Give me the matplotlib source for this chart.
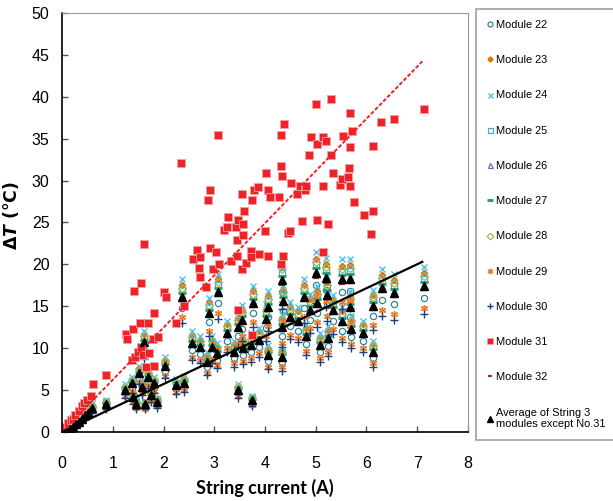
import matplotlib
matplotlib.use("Agg")
from matplotlib import pyplot as plt
import numpy as np

# string current (A) for the measurement groups of modules 22-30, 32
current = [0.15, 0.22, 0.28, 0.34, 0.40, 0.46, 0.52, 0.60, 0.87, 1.24,
           1.38, 1.40, 1.46, 1.52, 1.58, 1.62, 1.64, 1.70, 1.75, 1.82,
           1.88, 2.02, 2.24, 2.36, 2.40, 2.57, 2.72, 2.86, 2.90, 2.95,
           3.05, 3.07, 3.25, 3.38, 3.47, 3.47, 3.55, 3.56, 3.72, 3.74,
           3.76, 3.88, 4.02, 4.05, 4.06, 4.33, 4.35, 4.33, 4.34, 4.50,
           4.65, 4.77, 4.80, 4.88, 5.00, 5.02, 5.08, 5.20, 5.22, 5.24,
           5.34, 5.52, 5.52, 5.68, 5.68, 5.70, 5.94, 6.12, 6.12, 6.30,
           6.54, 7.13]

average = [0.4, 0.6, 0.9, 1.2, 1.6, 2.0, 2.3, 2.9, 3.4, 5.0,
           5.8, 4.2, 3.4, 7.0, 5.4, 10.7, 3.3, 6.6, 4.4, 5.8,
           3.6, 7.9, 5.6, 16.1, 5.9, 10.6, 10.1, 8.4, 14.2, 10.1,
           9.4, 16.7, 11.8, 9.6, 12.5, 5.0, 13.4, 10.0, 10.4, 3.8,
           15.4, 11.0, 13.5, 9.2, 14.9, 18.1, 15.6, 12.5, 9.0, 13.7,
           13.2, 16.1, 11.4, 14.6, 19.0, 15.4, 10.4, 18.4, 16.4, 11.2,
           14.5, 18.2, 13.2, 18.3, 14.9, 12.3, 11.8, 15.0, 9.6, 17.2,
           16.6, 17.4]

m22 = [0.4, 0.6, 0.8, 1.1, 1.5, 1.8, 2.1, 2.7, 3.1, 4.6, 5.3, 3.9, 3.1, 6.4, 5.0, 9.8, 3.0, 6.1, 4.0, 5.3,
       3.3, 7.3, 5.2, 14.8, 5.4, 9.8, 9.3, 7.7, 13.1, 9.3, 8.6, 15.4, 10.9, 8.8, 11.5, 4.6, 12.3, 9.2, 9.6, 3.5,
       14.2, 10.1, 12.4, 8.5, 13.7, 16.7, 14.4, 11.5, 8.3, 12.6, 12.1, 14.8, 10.5, 13.4, 17.5, 14.2, 9.6, 16.9, 15.1, 10.3,
       13.3, 16.7, 12.1, 16.8, 13.7, 11.3, 10.9, 13.8, 8.8, 15.8, 15.3, 16.0]
m23 = [0.4, 0.7, 1.0, 1.3, 1.7, 2.2, 2.5, 3.2, 3.7, 5.5, 6.3, 4.6, 3.7, 7.6, 5.9, 11.7, 3.6, 7.2, 4.8, 6.3,
       3.9, 8.6, 6.1, 17.5, 6.4, 11.6, 11.0, 9.2, 15.5, 11.0, 10.2, 18.2, 12.9, 10.5, 13.6, 5.5, 14.6, 10.9, 11.3, 4.1,
       16.8, 12.0, 14.7, 10.0, 16.2, 19.7, 17.0, 13.6, 9.8, 14.9, 14.4, 17.5, 12.4, 15.9, 20.7, 16.8, 11.3, 20.1, 17.9, 12.2,
       15.8, 19.8, 14.4, 19.9, 16.2, 13.4, 12.9, 16.4, 10.5, 18.7, 18.1, 19.0]
m24 = [0.5, 0.7, 1.0, 1.4, 1.8, 2.3, 2.6, 3.3, 3.8, 5.7, 6.6, 4.7, 3.8, 7.9, 6.1, 12.1, 3.7, 7.5, 5.0, 6.6,
       4.1, 8.9, 6.3, 18.2, 6.7, 12.0, 11.4, 9.5, 16.0, 11.4, 10.6, 18.9, 13.3, 10.8, 14.1, 5.7, 15.1, 11.3, 11.8, 4.3,
       17.4, 12.4, 15.3, 10.4, 16.8, 20.5, 17.6, 14.1, 10.2, 15.5, 14.9, 18.2, 12.9, 16.5, 21.5, 17.4, 11.8, 20.8, 18.5, 12.7,
       16.4, 20.6, 14.9, 20.7, 16.8, 13.9, 13.3, 17.0, 10.8, 19.4, 18.8, 19.7]
m25 = [0.4, 0.6, 0.9, 1.3, 1.7, 2.1, 2.4, 3.0, 3.6, 5.3, 6.1, 4.4, 3.6, 7.4, 5.7, 11.2, 3.5, 6.9, 4.6, 6.1,
       3.8, 8.3, 5.9, 16.9, 6.2, 11.1, 10.6, 8.8, 14.9, 10.6, 9.9, 17.5, 12.4, 10.1, 13.1, 5.3, 14.1, 10.5, 10.9, 4.0,
       16.2, 11.6, 14.2, 9.7, 15.6, 19.0, 16.4, 13.1, 9.5, 14.4, 13.9, 16.9, 12.0, 15.3, 20.0, 16.2, 10.9, 19.3, 17.2, 11.8,
       15.2, 19.1, 13.9, 19.2, 15.6, 12.9, 12.4, 15.8, 10.1, 18.1, 17.4, 18.3]
m26 = [0.4, 0.6, 0.9, 1.2, 1.6, 2.0, 2.3, 2.9, 3.4, 5.1, 5.9, 4.2, 3.4, 7.1, 5.5, 10.8, 3.3, 6.7, 4.4, 5.9,
       3.6, 8.0, 5.7, 16.3, 6.0, 10.7, 10.2, 8.5, 14.3, 10.2, 9.5, 16.9, 11.9, 9.7, 12.6, 5.1, 13.5, 10.1, 10.5, 3.8,
       15.6, 11.1, 13.6, 9.3, 15.0, 18.3, 15.8, 12.6, 9.1, 13.8, 13.3, 16.3, 11.5, 14.7, 19.2, 15.6, 10.5, 18.6, 16.6, 11.3,
       14.6, 18.4, 13.3, 18.5, 15.0, 12.4, 11.9, 15.2, 9.7, 17.4, 16.8, 17.6]
m27 = [0.4, 0.6, 0.9, 1.2, 1.6, 2.1, 2.4, 3.0, 3.5, 5.2, 6.0, 4.3, 3.5, 7.2, 5.6, 11.0, 3.4, 6.8, 4.5, 6.0,
       3.7, 8.1, 5.8, 16.6, 6.1, 10.9, 10.4, 8.7, 14.6, 10.4, 9.7, 17.2, 12.2, 9.9, 12.9, 5.2, 13.8, 10.3, 10.7, 3.9,
       15.9, 11.3, 13.9, 9.5, 15.3, 18.6, 16.1, 12.9, 9.3, 14.1, 13.6, 16.6, 11.7, 15.0, 19.6, 15.9, 10.7, 19.0, 16.9, 11.5,
       14.9, 18.7, 13.6, 18.8, 15.3, 12.7, 12.2, 15.5, 9.9, 17.7, 17.1, 17.9]
m28 = [0.4, 0.6, 1.0, 1.3, 1.7, 2.1, 2.5, 3.1, 3.6, 5.4, 6.2, 4.5, 3.6, 7.5, 5.8, 11.4, 3.5, 7.1, 4.7, 6.2,
       3.9, 8.5, 6.0, 17.2, 6.3, 11.3, 10.8, 9.0, 15.2, 10.8, 10.1, 17.9, 12.6, 10.3, 13.4, 5.4, 14.3, 10.7, 11.1, 4.1,
       16.5, 11.8, 14.4, 9.8, 15.9, 19.4, 16.7, 13.4, 9.6, 14.7, 14.1, 17.2, 12.2, 15.6, 20.3, 16.5, 11.1, 19.7, 17.5, 12.0,
       15.5, 19.5, 14.1, 19.6, 15.9, 13.2, 12.6, 16.1, 10.3, 18.4, 17.8, 18.6]
m29 = [0.3, 0.5, 0.8, 1.0, 1.4, 1.7, 2.0, 2.5, 2.9, 4.3, 4.9, 3.6, 2.9, 6.0, 4.6, 9.1, 2.8, 5.6, 3.7, 4.9,
       3.1, 6.7, 4.8, 13.7, 5.0, 9.0, 8.6, 7.1, 12.1, 8.6, 8.0, 14.2, 10.0, 8.2, 10.6, 4.3, 11.4, 8.5, 8.8, 3.2,
       13.1, 9.4, 11.5, 7.8, 12.7, 15.4, 13.3, 10.6, 7.7, 11.6, 11.2, 13.7, 9.7, 12.4, 16.2, 13.1, 8.8, 15.6, 13.9, 9.5,
       12.3, 15.5, 11.2, 15.6, 12.7, 10.5, 10.0, 12.8, 8.2, 14.6, 14.1, 14.8]
m30 = [0.3, 0.5, 0.7, 1.0, 1.3, 1.6, 1.9, 2.3, 2.8, 4.1, 4.7, 3.4, 2.8, 5.7, 4.4, 8.7, 2.7, 5.3, 3.6, 4.7,
       2.9, 6.4, 4.5, 13.0, 4.8, 8.6, 8.2, 6.8, 11.5, 8.2, 7.6, 13.5, 9.6, 7.8, 10.1, 4.1, 10.9, 8.1, 8.4, 3.1,
       12.5, 8.9, 10.9, 7.5, 12.1, 14.7, 12.6, 10.1, 7.3, 11.1, 10.7, 13.0, 9.2, 11.8, 15.4, 12.5, 8.4, 14.9, 13.3, 9.1,
       11.7, 14.7, 10.7, 14.8, 12.1, 10.0, 9.6, 12.2, 7.8, 13.9, 13.4, 14.1]
m32 = [0.4, 0.6, 0.9, 1.2, 1.6, 1.9, 2.2, 2.8, 3.3, 4.9, 5.6, 4.1, 3.3, 6.8, 5.2, 10.4, 3.2, 6.4, 4.3, 5.6,
       3.5, 7.7, 5.4, 15.6, 5.7, 10.3, 9.8, 8.1, 13.8, 9.8, 9.1, 16.2, 11.4, 9.3, 12.1, 4.9, 13.0, 9.7, 10.1, 3.7,
       14.9, 10.7, 13.1, 8.9, 14.5, 17.6, 15.1, 12.1, 8.7, 13.3, 12.8, 15.6, 11.1, 14.2, 18.4, 14.9, 10.1, 17.8, 15.9, 10.9,
       14.1, 17.7, 12.8, 17.8, 14.5, 11.9, 11.4, 14.6, 9.3, 16.7, 16.1, 16.9]

# module 31 (hot module) measured separately
m31_current = [0.06, 0.12, 0.18, 0.22, 0.26, 0.33, 0.39, 0.44, 0.49, 0.57, 0.61, 0.87,
               1.26, 1.28, 1.38, 1.44, 1.50, 1.60, 1.56, 1.71, 1.65, 1.81, 1.40, 1.54,
               1.69, 1.79, 1.89, 1.81, 2.25, 2.40, 1.42, 1.56, 2.01, 2.05, 1.62, 2.34, 3.07,
               2.58, 2.66, 2.70, 2.72, 2.72, 2.84, 2.88, 2.92, 2.92, 2.98, 3.03, 3.09,
               3.19, 3.25, 3.27, 3.33, 3.43, 3.45, 3.45, 3.47, 3.47, 3.55, 3.55, 3.57,
               3.57, 3.59, 3.63, 3.72, 3.72, 3.74, 3.74, 3.78, 3.86, 3.88, 4.00, 4.02,
               4.06, 4.06, 4.10, 4.28, 4.32, 4.37, 4.32, 4.33, 4.35, 4.32, 4.45, 4.49,
               4.51, 4.63, 4.69, 4.73, 4.79, 4.81, 4.87, 4.91, 5.00, 5.02, 5.02, 5.14,
               5.14, 5.14, 5.20, 5.24, 5.30, 5.30, 5.34, 5.48, 5.52, 5.54, 5.64, 5.66,
               5.67, 5.67, 5.67, 5.71, 5.75, 5.95, 6.09, 6.13, 6.13, 6.29, 6.54, 7.13]
m31 = [0.6, 1.1, 1.4, 1.6, 2.0, 2.5, 3.1, 3.5, 3.8, 4.3, 5.7, 6.8,
       11.7, 11.1, 8.6, 8.9, 9.5, 9.2, 10.1, 9.4, 7.8, 7.9, 12.3, 13.0,
       13.0, 11.1, 11.3, 14.2, 13.0, 15.0, 16.8, 17.8, 16.7, 16.1, 22.4, 32.1, 35.4,
       20.6, 21.7, 19.6, 20.9, 18.5, 17.3, 27.7, 28.9, 22.0, 19.4, 21.5, 20.0,
       24.1, 24.5, 25.7, 20.4, 24.5, 21.0, 22.9, 25.3, 14.6, 28.4, 19.5, 24.8,
       23.5, 26.4, 20.2, 21.6, 20.9, 27.7, 11.6, 28.9, 29.2, 21.2, 24.0, 30.9,
       28.9, 21.0, 28.0, 28.0, 35.4, 36.8, 31.7, 30.5, 21.0, 20.0, 23.7, 24.0,
       29.7, 28.4, 29.4, 25.2, 28.9, 29.4, 33.1, 35.2, 39.1, 34.4, 25.3, 35.2,
       29.4, 21.5, 34.7, 24.8, 39.7, 33.1, 30.9, 29.5, 30.2, 35.3, 30.4, 31.5,
       38.1, 34.0, 29.4, 35.9, 27.4, 25.9, 23.6, 34.1, 26.4, 37.0, 37.3, 38.5]

# linear trend lines through origin (slopes)
trend_end = 7.1
slope_m31 = 6.23
slope_avg = 2.86

plt.rcParams["mathtext.fontset"] = "custom"
plt.rcParams["mathtext.rm"] = "DejaVu Sans:bold"
plt.rcParams["mathtext.it"] = "DejaVu Sans:bold:italic"

fig = plt.figure(figsize=(6.13, 5.01), dpi=100)
ax = fig.add_axes([62 / 613, 1 - 432 / 501, 406 / 613, 419 / 501])

series = [
    ("Module 22", m22, dict(marker="o", mfc="none", mec="#31859C", ms=4.5, mew=0.9)),
    ("Module 23", m23, dict(marker="D", mfc="#E46C0A", mec="#E46C0A", ms=3.2)),
    ("Module 24", m24, dict(marker="x", mec="#4FC3F0", ms=4.5, mew=1.0)),
    ("Module 25", m25, dict(marker="s", mfc="none", mec="#4BACC6", ms=4.5, mew=0.9)),
    ("Module 26", m26, dict(marker="^", mfc="none", mec="#8064A2", ms=4.5, mew=0.9)),
    ("Module 27", m27, dict(marker="_", mec="#1E9E6E", ms=6, mew=2.0)),
    ("Module 28", m28, dict(marker="D", mfc="none", mec="#9BBB59", ms=4.2, mew=0.9)),
    ("Module 29", m29, dict(marker=(6, 2, 0), mec="#F07A2A", ms=5, mew=1.0)),
    ("Module 30", m30, dict(marker="+", mec="#1F3F7D", ms=5.5, mew=1.0)),
]

handles = []
for label, vals, st in series:
    h, = ax.plot(current, vals, linestyle="none", label=label, **st)
    handles.append(h)

h31, = ax.plot(m31_current, m31, linestyle="none", marker="s", mfc="#EE2229",
               mec="#F5A0A0", ms=5.8, mew=0.6, label="Module 31")
handles.append(h31)

h32, = ax.plot(current, m32, linestyle="none", marker="_", mec="#943634", ms=4,
               mew=1.6, label="Module 32")
handles.append(h32)

havg, = ax.plot(current, average, linestyle="none", marker="^", mfc="black",
                mec="black", ms=6, label="Average of String 3\nmodules except No.31")
handles.append(havg)

tx = np.array([0, trend_end])
ax.plot(tx, slope_m31 * tx, color="#EE2229", lw=1.4, linestyle=(0, (2, 1)))
ax.plot(tx, slope_avg * tx, color="black", lw=1.6)

ax.set_xlim(0, 8)
ax.set_ylim(0, 50)
ax.set_xticks(range(0, 9))
ax.set_yticks(range(0, 51, 5))
tick_font = "Liberation Sans"
ax.tick_params(direction="in", length=4, width=1, colors="#555555", labelcolor="black")
for lab in ax.get_xticklabels() + ax.get_yticklabels():
    lab.set_family(tick_font)
    lab.set_fontsize(11.5)
ax.tick_params(axis="x", pad=17)
ax.tick_params(axis="y", pad=9)

ax.spines["left"].set_color("black")
ax.spines["bottom"].set_color("black")
ax.spines["left"].set_linewidth(1.2)
ax.spines["bottom"].set_linewidth(1.2)
ax.spines["top"].set_color("#999999")
ax.spines["right"].set_color("#999999")

ax.set_xlabel("String current (A)", fontsize=13, fontweight="bold", family="Lato")
ax.xaxis.set_label_coords((265 - 62) / 406, -(479 - 432) / 419)
ax.set_ylabel(r"$\Delta T$ (°C)", fontsize=12.5, fontweight="bold")
ax.yaxis.set_label_coords(-(62 - 21) / 406, (432 - 215) / 419)

leg = fig.legend(handles=handles, loc="upper left", bbox_to_anchor=(476 / 613, 1 - 9 / 501),
                 frameon=True, fancybox=False, edgecolor="#888888", labelspacing=2.3,
                 handlelength=0.6, handletextpad=0.25, borderpad=1.0, borderaxespad=0,
                 prop={"family": tick_font, "size": 7.9}, markerscale=0.8)
leg.get_frame().set_linewidth(1.2)

fig.savefig("out.png", dpi=100)
